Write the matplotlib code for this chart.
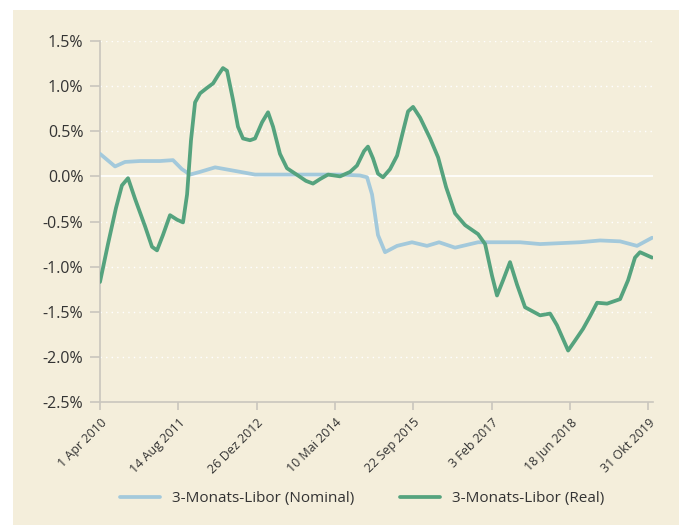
import numpy as np
import pandas as pd
import matplotlib
matplotlib.use("Agg")
import matplotlib.pyplot as plt
from matplotlib.patches import Rectangle

plt.rcParams['font.family'] = ['Open Sans', 'DejaVu Sans']

# 3-Monats-Libor (Nominal)
nom_dates = ["2010-04-01", "2010-07-06", "2010-09-08", "2010-12-12", "2011-04-19", "2011-07-11",
             "2011-09-06", "2011-10-28", "2011-12-31", "2012-04-05", "2012-08-11", "2012-12-16",
             "2013-04-23", "2013-09-29", "2014-06-12", "2014-10-17", "2014-12-01", "2015-01-02",
             "2015-02-09", "2015-03-26", "2015-06-11", "2015-09-14", "2015-12-19", "2016-03-05",
             "2016-06-15", "2016-11-09", "2017-08-04", "2017-12-10", "2018-08-22", "2018-12-28",
             "2019-05-05", "2019-08-21", "2019-11-25"]
nom_vals = [0.25, 0.11, 0.16, 0.17, 0.17, 0.18,
            0.08, 0.02, 0.05, 0.10, 0.06, 0.02,
            0.02, 0.02, 0.02, 0.01, -0.01, -0.20,
            -0.65, -0.84, -0.77, -0.73, -0.77, -0.73,
            -0.79, -0.73, -0.73, -0.75, -0.73, -0.71,
            -0.72, -0.77, -0.68]

# 3-Monats-Libor (Real)
real_dates = ["2010-04-01", "2010-05-22", "2010-07-12", "2010-08-19", "2010-09-27", "2010-11-11",
              "2011-01-13", "2011-02-27", "2011-03-31", "2011-05-08", "2011-06-22", "2011-08-06",
              "2011-09-13", "2011-10-09", "2011-11-03", "2011-11-29", "2011-12-31", "2012-02-13",
              "2012-03-23", "2012-04-24", "2012-05-25", "2012-06-20", "2012-07-28", "2012-08-29",
              "2012-09-30", "2012-11-14", "2012-12-16", "2013-01-30", "2013-03-09", "2013-04-10",
              "2013-05-24", "2013-07-08", "2013-09-16", "2013-11-06", "2013-12-21", "2014-02-04",
              "2014-03-27", "2014-06-12", "2014-08-15", "2014-09-28", "2014-11-12", "2014-12-07",
              "2015-01-08", "2015-02-09", "2015-03-13", "2015-04-27", "2015-06-11", "2015-07-19",
              "2015-08-20", "2015-09-21", "2015-11-05", "2016-01-08", "2016-02-28", "2016-04-19",
              "2016-06-15", "2016-08-18", "2016-11-09", "2016-12-24", "2017-02-06", "2017-03-10",
              "2017-04-18", "2017-06-01", "2017-07-16", "2017-09-05", "2017-12-10", "2018-02-12",
              "2018-03-28", "2018-06-07", "2018-07-21", "2018-09-10", "2018-10-25", "2018-12-09",
              "2019-02-11", "2019-05-05", "2019-06-25", "2019-08-08", "2019-09-09", "2019-11-25"]
real_vals = [-1.17, -0.75, -0.35, -0.10, -0.02, -0.25,
             -0.55, -0.78, -0.82, -0.65, -0.43, -0.48,
             -0.51, -0.20, 0.40, 0.82, 0.92, 0.98,
             1.03, 1.12, 1.20, 1.17, 0.85, 0.55,
             0.42, 0.40, 0.42, 0.60, 0.71, 0.55,
             0.25, 0.09, 0.01, -0.05, -0.08, -0.03,
             0.02, 0.00, 0.05, 0.12, 0.28, 0.33,
             0.20, 0.03, -0.01, 0.08, 0.23, 0.50,
             0.72, 0.77, 0.65, 0.42, 0.21, -0.12,
             -0.41, -0.54, -0.64, -0.75, -1.10, -1.32,
             -1.15, -0.95, -1.20, -1.45, -1.54, -1.52,
             -1.65, -1.93, -1.82, -1.69, -1.55, -1.40,
             -1.41, -1.36, -1.15, -0.90, -0.84, -0.90]

tick_labels = ["1 Apr 2010", "14 Aug 2011", "26 Dez 2012", "10 Mai 2014",
               "22 Sep 2015", "3 Feb 2017", "18 Jun 2018", "31 Okt 2019"]
y_ticks = [1.5, 1.0, 0.5, 0.0, -0.5, -1.0, -1.5, -2.0, -2.5]

BG = "#F4EEDB"
NOM_C = "#A3C9DB"
REAL_C = "#55A37E"
GREY = "#C9C6BE"

fig = plt.figure(figsize=(6.83, 5.25), dpi=100)
fig.patch.set_facecolor("white")
fig.patches.append(Rectangle((13 / 683, 0), 666 / 683, 515 / 525, transform=fig.transFigure,
                             facecolor=BG, edgecolor="none", zorder=-10))
ax = fig.add_axes([100 / 683, 1 - 402 / 525, 553 / 683, 361 / 525])
ax.set_facecolor(BG)

nd = pd.to_datetime(nom_dates)
rd = pd.to_datetime(real_dates)
ax.plot(nd, nom_vals, color=NOM_C, lw=2.7, solid_joinstyle="round", solid_capstyle="round",
        label="3-Monats-Libor (Nominal)", zorder=3)
ax.plot(rd, real_vals, color=REAL_C, lw=2.7, solid_joinstyle="round", solid_capstyle="round",
        label="3-Monats-Libor (Real)", zorder=4)

start = pd.Timestamp("2010-04-01")
ticks = [start + pd.Timedelta(days=500 * i) for i in range(len(tick_labels))]
ax.set_xticks(ticks)
ax.set_xticklabels(tick_labels, rotation=45, ha="right", rotation_mode="anchor", fontsize=9,
                   color="#333333")
ax.set_xlim(start, pd.Timestamp("2019-12-01"))

ax.set_ylim(-2.5, 1.5)
ax.set_yticks(y_ticks)
ax.set_yticklabels([f"{v:.1f}%" for v in y_ticks], fontsize=11.5, color="#333333")

for v in y_ticks:
    if v == 0:
        ax.axhline(v, color="white", lw=1.2, zorder=1)
    elif v != -2.5:
        ax.axhline(v, color="white", lw=1.0, ls=(0, (1, 3)), zorder=1)

for s in ("top", "right"):
    ax.spines[s].set_visible(False)
for s in ("left", "bottom"):
    ax.spines[s].set_color(GREY)
    ax.spines[s].set_linewidth(1.2)
ax.tick_params(axis="y", length=7, width=1.2, color=GREY, pad=5)
ax.tick_params(axis="x", length=6, width=1.2, color=GREY, pad=4)

fig.legend(loc="lower center", bbox_to_anchor=(0.53, 0.01), ncol=2, frameon=False, fontsize=11,
           handlelength=2.6, columnspacing=3.0, labelcolor="#333333")

fig.savefig("out.png", dpi=100, facecolor=fig.get_facecolor())
